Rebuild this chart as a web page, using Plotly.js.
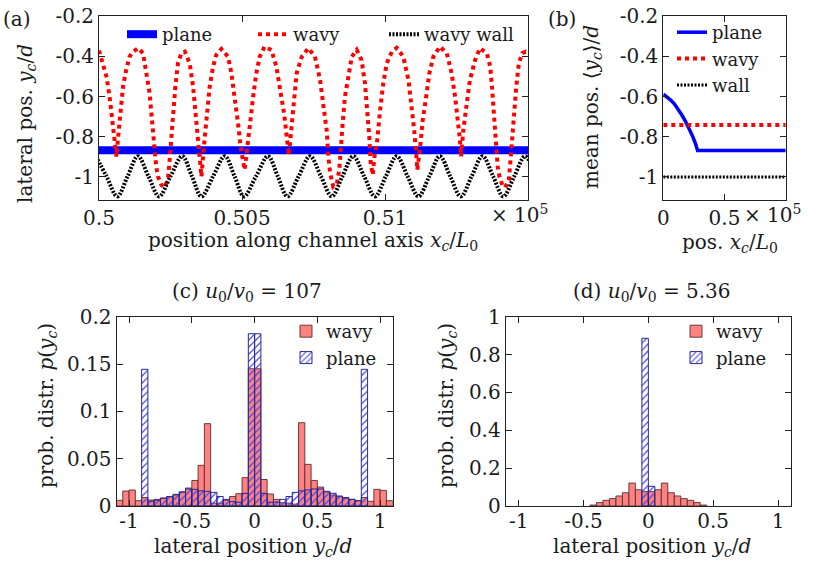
<!DOCTYPE html>
<html>
<head>
<meta charset="utf-8">
<script src="https://cdn.plot.ly/plotly-3.0.1.min.js"></script>
<style>html,body{margin:0;padding:0;background:#fff;}#chart{width:813px;height:563px;}</style>
</head>
<body>
<div id="chart"></div>
<script>
// ---------- panel (a): trajectories ----------
const trajWavyX = [50000,50014,50026,50037,50043,50049,50055,50061,50066,50072,50078,50084,50095,50107,50119,50137,
  50154,50165,50177,50183,50189,50195,50200,50206,50218,50228,50241,50247,50253,50259,50267,50276,50288,50300,
  50317,50329,50337,50344,50352,50358,50369,50379,50387,50399,50410,50428,
  50451,50463,50475,50486,50495,50503,50509,50519,50527,50539,50550,50562,50579,
  50603,50620,50635,50647,50655,50661,50664,50669,50675,50681,50691,50709,50732,
  50755,50773,50785,50796,50802,50808,50819,50832,50840,50845,50852,50860,50872,50884,50901,
  50918,50930,50938,50945,50950,50957,50963,50973,50983,50994,51006,51024,51041,
  51064,51082,51094,51102,51109,51113,51123,51132,51144,51155,51169,51192,
  51216,51233,51245,51256,51262,51266,51274,51286,51297,51315,51332,
  51356,51368,51374,51379,51385,51391,51394,51400,51410,51420,51433,51439,51445,51451,51459,51468,51480,51492,51510];
const trajWavyY = [-0.370,-0.435,-0.500,-0.600,-0.683,-0.766,-0.833,-0.899,-0.815,-0.716,-0.633,-0.550,-0.467,-0.401,-0.376,-0.359,
  -0.384,-0.467,-0.583,-0.683,-0.782,-0.882,-0.948,-0.998,-1.040,-1.053,-1.015,-0.915,-0.799,-0.683,-0.550,-0.434,-0.384,-0.376,
  -0.434,-0.550,-0.683,-0.815,-0.931,-0.998,-0.815,-0.683,-0.550,-0.450,-0.392,-0.363,
  -0.401,-0.484,-0.600,-0.732,-0.848,-0.931,-0.965,-0.848,-0.732,-0.600,-0.484,-0.401,-0.351,
  -0.368,-0.450,-0.566,-0.683,-0.782,-0.882,-0.892,-0.815,-0.716,-0.610,-0.484,-0.401,-0.359,
  -0.401,-0.517,-0.650,-0.766,-0.898,-0.981,-1.048,-1.031,-0.965,-0.848,-0.732,-0.600,-0.484,-0.401,-0.367,
  -0.418,-0.534,-0.666,-0.799,-0.931,-0.990,-0.900,-0.815,-0.666,-0.534,-0.434,-0.376,-0.357,
  -0.401,-0.517,-0.650,-0.766,-0.882,-0.965,-0.848,-0.716,-0.600,-0.484,-0.401,-0.351,
  -0.384,-0.484,-0.600,-0.716,-0.815,-0.898,-0.766,-0.633,-0.517,-0.418,-0.359,
  -0.384,-0.451,-0.550,-0.650,-0.766,-0.882,-0.948,-0.998,-1.040,-1.053,-1.015,-0.915,-0.799,-0.683,-0.550,-0.434,-0.384,-0.376,-0.390];

const wallX = [49989,50026,50064,50100,50136,50173,50210,50250,50291,50325,50358,50399,50440,50474,50507,50549,50591,50625,
  50659,50698,50738,50776,50814,50851,50889,50927,50965,51003,51041,51079,51117,51155,51192,51228,51265,51303,51341,
  51378,51414,51452,51490,51527];
const wallY = [-0.897,-0.997,-1.097,-0.997,-0.897,-0.997,-1.097,-0.997,-0.897,-0.997,-1.097,-0.997,-0.897,-0.997,-1.097,-0.997,-0.897,-0.997,
  -1.097,-0.997,-0.897,-0.997,-1.097,-0.997,-0.897,-0.997,-1.097,-0.997,-0.897,-0.997,-1.097,-0.997,-0.897,-0.997,-1.097,-0.997,-0.897,
  -0.997,-1.097,-0.997,-0.897,-0.997];

const planeX = [50000, 50500, 51000, 51500];
const planeY = [-0.867, -0.867, -0.867, -0.867];

// ---------- panel (b): mean positions ----------
const meanPlaneX = [0, 3000, 6000, 9000, 12000, 15000, 18000, 21000, 24000, 26500, 28000, 100000];
const meanPlaneY = [-0.588, -0.600, -0.617, -0.636, -0.660, -0.690, -0.722, -0.758, -0.798, -0.838, -0.868, -0.868];
const meanWavyX = [0, 100000];
const meanWavyY = [-0.741, -0.741];
const meanWallX = [0, 100000];
const meanWallY = [-1.0, -1.0];

// ---------- panel (c): histograms u0/v0 = 107 ----------
const binsC = [-1.075,-1.025,-0.975,-0.925,-0.875,-0.825,-0.775,-0.725,-0.675,-0.625,-0.575,-0.525,-0.475,-0.425,-0.375,-0.325,
  -0.275,-0.225,-0.175,-0.125,-0.075,-0.025,0.025,0.075,0.125,0.175,0.225,0.275,0.325,0.375,0.425,0.475,0.525,0.575,0.625,
  0.675,0.725,0.775,0.825,0.875,0.925,0.975,1.025,1.075];
const wavyC = [0.006,0.0158,0.0169,0.0056,0.009,0.0063,0.007,0.0085,0.0099,0.0116,0.0144,0.019,0.027,0.043,0.087,0.003,
  0.003,0.006,0.010,0.013,0.030,0.145,0.145,0.028,0.0127,0.007,0.0035,0.003,0.002,0.088,0.044,0.027,0.020,0.0148,0.0116,
  0.0099,0.008,0.007,0.0056,0.009,0.005,0.0176,0.0165,0.0056];
const planeBinsC = [-0.875,-0.825,-0.775,-0.725,-0.675,-0.625,-0.575,-0.525,-0.475,-0.425,-0.375,-0.325,-0.275,-0.225,-0.175,
  -0.125,-0.075,-0.025,0.025,0.075,0.125,0.175,0.225,0.275,0.325,0.375,0.425,0.475,0.525,0.575,0.625,0.675,0.725,0.775,0.825,0.875];
const planeC = [0.1444,0.005,0.006,0.008,0.010,0.0123,0.015,0.018,0.0176,0.016,0.0155,0.0144,0.010,0.007,0.0046,
  0.004,0.0134,0.182,0.182,0.0134,0.004,0.0042,0.007,0.010,0.0144,0.016,0.017,0.018,0.018,0.0155,0.0134,0.0106,0.009,0.007,0.0056,0.1444];

// ---------- panel (d): histograms u0/v0 = 5.36 ----------
const binsD = [-0.425,-0.375,-0.325,-0.275,-0.225,-0.175,-0.125,-0.075,-0.025,0.025,0.075,0.125,0.175,0.225,0.275,0.325,0.375,0.425];
const wavyD = [0.005,0.018,0.030,0.039,0.053,0.070,0.121,0.086,0.076,0.076,0.086,0.121,0.070,0.053,0.039,0.030,0.018,0.005];
const planeBinsD = [-0.025, 0.025];
const planeD = [0.886, 0.104];

// ---------- tick labels ----------
const tickValsA = [50000, 50500, 51000];
const tickTextA = ['0.5', '0.505', '0.51'];
const tickValsB = [0, 50000];
const tickTextB = ['0', '0.5'];
const tickValsPos = [-1, -0.8, -0.6, -0.4, -0.2];
const tickTextPos = ['-1', '-0.8', '-0.6', '-0.4', '-0.2'];
const tickValsLat = [-1, -0.5, 0, 0.5, 1];
const tickTextLat = ['-1', '-0.5', '0', '0.5', '1'];
const tickValsProbC = [0, 0.05, 0.1, 0.15, 0.2];
const tickTextProbC = ['0', '0.05', '0.1', '0.15', '0.2'];
const tickValsProbD = [0, 0.2, 0.4, 0.6, 0.8, 1];
const tickTextProbD = ['0', '0.2', '0.4', '0.6', '0.8', '1'];

const FONT = 'DejaVu Serif, Liberation Serif, serif';
const FS = 20;
const TXT = '#1a1a1a';
const BLUE = 'rgb(0,0,255)';
const RED = 'rgb(255,0,0)';
const WALLDASH = '2px,1.5px';

const traces = [
  {x: planeX, y: planeY, xaxis:'x', yaxis:'y', type:'scatter', mode:'lines', name:'plane',
   line:{color:BLUE, width:8}, legend:'legend'},
  {x: trajWavyX, y: trajWavyY, xaxis:'x', yaxis:'y', type:'scatter', mode:'lines', name:'wavy',
   line:{color:RED, width:4, dash:'dot'}, legend:'legend'},
  {x: wallX, y: wallY, xaxis:'x', yaxis:'y', type:'scatter', mode:'lines', name:'wavy wall',
   line:{color:'black', width:4, dash:WALLDASH, shape:'spline'}, legend:'legend'},

  {x: meanPlaneX, y: meanPlaneY, xaxis:'x2', yaxis:'y2', type:'scatter', mode:'lines', name:'plane',
   line:{color:BLUE, width:3.5}, legend:'legend2'},
  {x: meanWavyX, y: meanWavyY, xaxis:'x2', yaxis:'y2', type:'scatter', mode:'lines', name:'wavy',
   line:{color:RED, width:4, dash:'dot'}, legend:'legend2'},
  {x: meanWallX, y: meanWallY, xaxis:'x2', yaxis:'y2', type:'scatter', mode:'lines', name:'wall',
   line:{color:'black', width:3, dash:WALLDASH}, legend:'legend2'},

  {x: binsC, y: wavyC, xaxis:'x3', yaxis:'y3', type:'bar', name:'wavy', width:0.05,
   marker:{color:'rgb(255,130,130)', line:{color:'rgba(90,45,45,0.9)', width:1}}, legend:'legend3'},
  {x: planeBinsC, y: planeC, xaxis:'x3', yaxis:'y3', type:'bar', name:'plane', width:0.05,
   marker:{color:'rgb(70,70,235)', line:{color:'rgb(40,40,150)', width:1},
           pattern:{shape:'/', size:5, solidity:0.25, fgcolor:'rgb(70,70,235)'}}, legend:'legend3'},

  {x: binsD, y: wavyD, xaxis:'x4', yaxis:'y4', type:'bar', name:'wavy', width:0.05,
   marker:{color:'rgb(255,130,130)', line:{color:'rgba(90,45,45,0.9)', width:1}}, legend:'legend4'},
  {x: planeBinsD, y: planeD, xaxis:'x4', yaxis:'y4', type:'bar', name:'plane', width:0.05,
   marker:{color:'rgb(70,70,235)', line:{color:'rgb(40,40,150)', width:1},
           pattern:{shape:'/', size:5, solidity:0.25, fgcolor:'rgb(70,70,235)'}}, legend:'legend4'}
];

const ax = {showline:true, linecolor:'#222', linewidth:1, mirror:'ticks', ticks:'inside', ticklen:6,
  tickcolor:'#222', tickwidth:1, showgrid:false, zeroline:false, tickfont:{family:FONT, size:FS, color:TXT},
  fixedrange:true, automargin:false};

const H = 563, W = 813;
const px = v => v / W;
const py = v => 1 - v / H;

const yTop = [py(200), py(16.3)];
const yBot = [py(506), py(316.7)];

const leg = {bgcolor:'rgba(0,0,0,0)', borderwidth:0, font:{family:FONT, size:18, color:TXT},
  xanchor:'left', yanchor:'top', tracegroupgap:0};

function ann(text, x, y, extra) {
  return Object.assign({text:text, x:px(x), y:py(y), xref:'paper', yref:'paper', showarrow:false,
    xanchor:'center', yanchor:'middle', font:{family:FONT, size:FS, color:TXT}}, extra || {});
}

const layout = {
  width: W, height: H,
  margin: {l:0, r:0, t:0, b:0},
  paper_bgcolor:'white', plot_bgcolor:'white',
  font: {family:FONT, size:FS, color:TXT},
  barmode: 'overlay',
  showlegend: true,
  xaxis: Object.assign({}, ax, {domain:[px(99), px(528)], range:[50000, 51500], tickvals:tickValsA, ticktext:tickTextA, anchor:'y'}),
  yaxis: Object.assign({}, ax, {domain:yTop, range:[-1.115, -0.2], tickvals:tickValsPos, ticktext:tickTextPos, anchor:'x'}),
  xaxis2: Object.assign({}, ax, {domain:[px(663.3), px(785.7)], range:[0, 100000], tickvals:tickValsB, ticktext:tickTextB, anchor:'y2'}),
  yaxis2: Object.assign({}, ax, {domain:yTop, range:[-1.115, -0.2], tickvals:tickValsPos, ticktext:tickTextPos, anchor:'x2'}),
  xaxis3: Object.assign({}, ax, {domain:[px(116.5), px(392.7)], range:[-1.1, 1.1], tickvals:tickValsLat, ticktext:tickTextLat, anchor:'y3', ticklabelstandoff:-3}),
  yaxis3: Object.assign({}, ax, {domain:yBot, range:[0, 0.2], tickvals:tickValsProbC, ticktext:tickTextProbC, anchor:'x3'}),
  xaxis4: Object.assign({}, ax, {domain:[px(505.7), px(791)], range:[-1.1, 1.1], tickvals:tickValsLat, ticktext:tickTextLat, anchor:'y4', ticklabelstandoff:-3}),
  yaxis4: Object.assign({}, ax, {domain:yBot, range:[0, 1], tickvals:tickValsProbD, ticktext:tickTextProbD, anchor:'x4'}),
  legend: Object.assign({}, leg, {orientation:'h', x:px(122), y:py(16), entrywidth:86, entrywidthmode:'pixels'}),
  legend2: Object.assign({}, leg, {x:px(672), y:py(14)}),
  legend3: Object.assign({}, leg, {x:px(286), y:py(313)}),
  legend4: Object.assign({}, leg, {x:px(676), y:py(313)}),
  annotations: [
    ann('(a)', 1, 19, {xanchor:'left'}),
    ann('lateral pos. <i>y</i><sub><i>c</i></sub>/<i>d</i>', 26, 124, {textangle:-90}),
    ann('position along channel axis <i>x</i><sub><i>c</i></sub>/<i>L</i><sub>0</sub>', 313, 241),
    ann('× 10<sup>5</sup>', 520, 214),
    ann('(b)', 546, 19, {xanchor:'left'}),
    ann('mean pos. ⟨<i>y</i><sub><i>c</i></sub>⟩/<i>d</i>', 592, 107, {textangle:-90}),
    ann('pos. <i>x</i><sub><i>c</i></sub>/<i>L</i><sub>0</sub>', 730, 243),
    ann('× 10<sup>5</sup>', 773, 214),
    ann('(c) <i>u</i><sub>0</sub>/<i>v</i><sub>0</sub> = 107', 247, 292),
    ann('prob. distr. <i>p</i>(<i>y</i><sub><i>c</i></sub>)', 47, 406, {textangle:-90}),
    ann('lateral position <i>y</i><sub><i>c</i></sub>/<i>d</i>', 253, 547),
    ann('(d) <i>u</i><sub>0</sub>/<i>v</i><sub>0</sub> = 5.36', 652, 292),
    ann('prob. distr. <i>p</i>(<i>y</i><sub><i>c</i></sub>)', 447, 406, {textangle:-90}),
    ann('lateral position <i>y</i><sub><i>c</i></sub>/<i>d</i>', 652, 547)
  ]
};

Plotly.newPlot('chart', traces, layout, {displayModeBar:false, staticPlot:true});
</script>
</body>
</html>
